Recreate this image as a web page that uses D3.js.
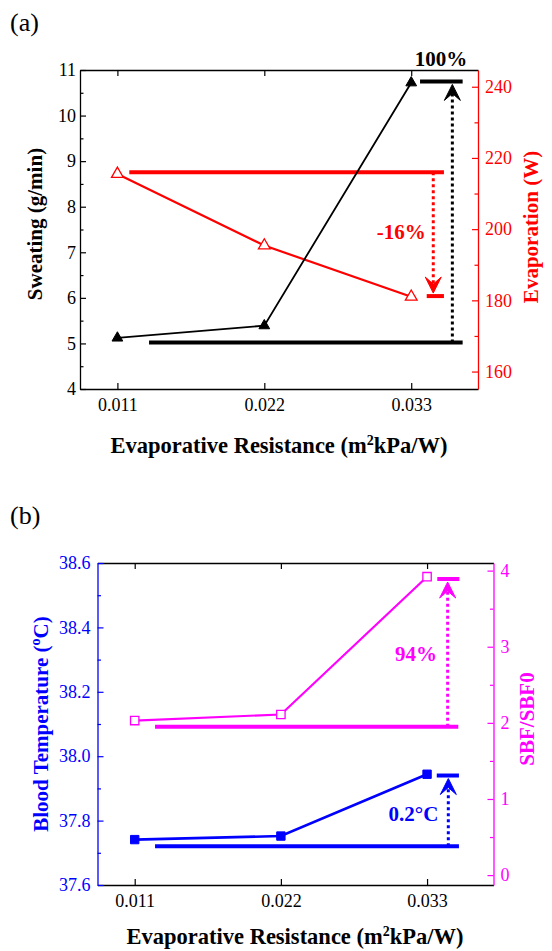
<!DOCTYPE html>
<html><head><meta charset="utf-8">
<script src="https://cdn.jsdelivr.net/npm/d3@7"></script>
<style>
html,body{margin:0;padding:0;background:#fff;}
svg{display:block;}
svg text{font-family:'Liberation Serif','DejaVu Serif',serif !important;}
</style></head>
<body>
<svg id="chart" width="552" height="951"></svg>
<script>
// ---------------- DATA ----------------
const resistance = [0.011, 0.022, 0.033];
const xTickLabels = ["0.011", "0.022", "0.033"];
const sweating = [5.12, 5.39, 10.72];          // g/min (left axis, a)
const evaporation = [215.5, 195.4, 181.0];     // W (right axis, a)
const bloodTemp = [37.741, 37.752, 37.944];    // °C (left axis, b)
const sbfRatio = [2.03, 2.11, 3.92];           // SBF/SBF0 (right axis, b)
const sweatTicks = [4, 5, 6, 7, 8, 9, 10, 11];
const evapTicks = [160, 180, 200, 220, 240];
const bloodTicks = [37.6, 37.8, 38.0, 38.2, 38.4, 38.6];
const sbfTicks = [0, 1, 2, 3, 4];
// annotation reference levels
const sweatRef = {base: 5.02, top: 10.75, label: "100%"};
const evapRef = {top: 216.0, bottom: 181.2, label: "-16%"};
const bloodRef = {base: 37.72, top: 37.94, label: "0.2°C"};
const sbfRef = {base: 1.95, top: 3.89, label: "94%"};

const svg = d3.select("#chart");
const FONT = "'Liberation Serif','DejaVu Serif',serif";

function panel(cfg) {
  const g = svg.append("g");
  const x = d3.scaleLinear().domain([0.0082, 0.0380]).range([cfg.left, cfg.right]);
  const yL = d3.scaleLinear().domain(cfg.leftDomain).range([cfg.bottom, cfg.top]);
  const yR = d3.scaleLinear().domain(cfg.rightDomain).range([cfg.bottom, cfg.top]);

  function styleAxis(sel, color, fs) {
    sel.attr("font-family", FONT);
    sel.selectAll("path.domain").attr("stroke", color).attr("stroke-width", 1.3);
    sel.selectAll(".tick line").attr("stroke", color).attr("stroke-width", 1.2);
    sel.selectAll(".tick text").attr("fill", color).style("font-family", FONT).style("font-size", fs + "px");
  }
  function minor(sel, axis, color) {
    sel.call(axis);
    sel.select("path.domain").remove();
    sel.selectAll(".tick line").attr("stroke", color).attr("stroke-width", 1.2);
  }

  const bx = g.append("g").attr("transform", `translate(0,${cfg.bottom})`)
    .call(d3.axisBottom(x).tickValues(resistance).tickFormat((d, i) => xTickLabels[i]).tickSize(-6).tickPadding(9).tickSizeOuter(0));
  styleAxis(bx, "#000", 18);
  const tx = g.append("g").attr("transform", `translate(0,${cfg.top})`)
    .call(d3.axisTop(x).tickValues(resistance).tickFormat("").tickSize(-6).tickSizeOuter(0));
  styleAxis(tx, "#000", 18);
  const la = g.append("g").attr("transform", `translate(${cfg.left},0)`)
    .call(d3.axisLeft(yL).tickValues(cfg.leftTicks).tickFormat(cfg.leftFmt).tickSize(-6).tickPadding(cfg.leftPad).tickSizeOuter(0));
  styleAxis(la, cfg.leftColor, 18);
  minor(g.append("g").attr("transform", `translate(${cfg.left},0)`),
    d3.axisLeft(yL).tickValues(cfg.leftMinor).tickFormat("").tickSize(-3.5).tickSizeOuter(0), cfg.leftColor);
  const ra = g.append("g").attr("transform", `translate(${cfg.right},0)`)
    .call(d3.axisRight(yR).tickValues(cfg.rightTicks).tickFormat(cfg.rightFmt).tickSize(-6).tickPadding(7).tickSizeOuter(0));
  styleAxis(ra, cfg.rightColor, 18);
  minor(g.append("g").attr("transform", `translate(${cfg.right},0)`),
    d3.axisRight(yR).tickValues(cfg.rightMinor).tickFormat("").tickSize(-3.5).tickSizeOuter(0), cfg.rightColor);

  g.append("text").attr("x", 10).attr("y", cfg.letterY).text(cfg.letter)
    .style("font-family", FONT).style("font-size", "26px").attr("fill", "#000");

  const xt = g.append("text").attr("x", cfg.xTitleX).attr("y", cfg.xTitleY).attr("text-anchor", "middle")
    .style("font-family", FONT).style("font-size", "22.5px").style("font-weight", "bold").attr("fill", "#000");
  xt.append("tspan").text("Evaporative Resistance (m");
  xt.append("tspan").text("2").attr("dy", -8).style("font-size", "14px");
  xt.append("tspan").text("kPa/W)").attr("dy", 8);

  const lt = g.append("text").attr("transform", `translate(${cfg.leftTitleX},${cfg.leftTitleY}) rotate(-90)`)
    .attr("text-anchor", "middle").style("font-family", FONT).style("font-size", "21px").style("font-weight", "bold")
    .attr("fill", cfg.leftColor);
  cfg.leftTitle(lt);
  g.append("text").attr("transform", `translate(${cfg.rightTitleX},${cfg.rightTitleY}) rotate(-90)`)
    .attr("text-anchor", "middle").style("font-family", FONT).style("font-size", "21px").style("font-weight", "bold")
    .attr("fill", cfg.rightColor).text(cfg.rightTitle);

  return {g, x, yL, yR};
}

function series(p, y, vals, color, width, marker, filled, size) {
  const line = d3.line().x((d, i) => p.x(resistance[i])).y(d => y(d));
  p.g.append("path").datum(vals).attr("d", line).attr("fill", "none")
    .attr("stroke", color).attr("stroke-width", width);
  const sym = d3.symbol().type(marker).size(size);
  p.g.selectAll(null).data(vals).enter().append("path")
    .attr("d", sym)
    .attr("transform", (d, i) => `translate(${p.x(resistance[i])},${y(d)})`)
    .attr("fill", filled ? color : "#fff").attr("stroke", color).attr("stroke-width", filled ? 1 : 1.3);
}

function hbar(p, y, v, x0, x1, color) {
  p.g.append("line").attr("x1", p.x(x0)).attr("x2", p.x(x1)).attr("y1", y(v)).attr("y2", y(v))
    .attr("stroke", color).attr("stroke-width", 4);
}
function arrow(p, y, xv, from, to, color) {
  const X = p.x(xv), y0 = y(from), yt = y(to);
  const dir = yt < y0 ? 1 : -1;
  const tip = yt + dir * 3;
  p.g.append("line").attr("x1", X).attr("x2", X).attr("y1", y0).attr("y2", tip + dir * 8)
    .attr("stroke", color).attr("stroke-width", 3).attr("stroke-dasharray", "3,3");
  p.g.append("path").attr("d",
    `M${X},${tip} L${X - 8},${tip + dir * 16} L${X},${tip + dir * 9} L${X + 8},${tip + dir * 16} Z`)
    .attr("fill", color).attr("stroke", color).attr("stroke-width", 1);
}
function label(p, xv, yPix, txt, color) {
  p.g.append("text").attr("x", p.x(xv)).attr("y", yPix).attr("text-anchor", "middle").text(txt)
    .style("font-family", FONT).style("font-size", "21px").style("font-weight", "bold").attr("fill", color);
}

// ---------------- PANEL (a) ----------------
const pa = panel({
  left: 80, right: 478, top: 70, bottom: 389,
  leftDomain: [4, 11], rightDomain: [155.1, 244.7],
  leftTicks: sweatTicks, leftMinor: d3.range(4.5, 11, 1), leftFmt: d3.format("d"), leftPad: 4,
  rightTicks: evapTicks, rightMinor: [170, 190, 210, 230], rightFmt: d3.format("d"),
  leftColor: "#000", rightColor: "#ff0000",
  letter: "(a)", letterY: 31,
  xTitleX: 279, xTitleY: 453,
  leftTitleX: 42, leftTitleY: 224, leftTitle: t => t.text("Sweating (g/min)"),
  rightTitleX: 538, rightTitleY: 227, rightTitle: "Evaporation (W)"
});
hbar(pa, pa.yL, sweatRef.base, 0.01337, 0.03685, "#000");
hbar(pa, pa.yL, sweatRef.top, 0.03366, 0.03685, "#000");
arrow(pa, pa.yL, 0.03608, sweatRef.base, sweatRef.top, "#000");
hbar(pa, pa.yR, evapRef.top, 0.01189, 0.03545, "#ff0000");
hbar(pa, pa.yR, evapRef.bottom, 0.03416, 0.03545, "#ff0000");
arrow(pa, pa.yR, 0.03465, evapRef.top, evapRef.bottom, "#ff0000");
series(pa, pa.yR, evaporation, "#ff0000", 2.2, d3.symbolTriangle, false, 60);
series(pa, pa.yL, sweating, "#000", 1.8, d3.symbolTriangle, true, 50);
pa.g.append("text").attr("x", pa.x(0.03523)).attr("y", 66).attr("text-anchor", "middle").text(sweatRef.label)
  .style("font-family", FONT).style("font-size", "21px").style("font-weight", "bold").attr("fill", "#000");
label(pa, 0.03225, 239, evapRef.label, "#ff0000");

// ---------------- PANEL (b) ----------------
const pb = panel({
  left: 97.5, right: 493.5, top: 563, bottom: 885,
  leftDomain: [37.6, 38.6], rightDomain: [-0.13, 4.1],
  leftTicks: bloodTicks, leftMinor: [37.7, 37.9, 38.1, 38.3, 38.5], leftFmt: d3.format(".1f"), leftPad: 7,
  rightTicks: sbfTicks, rightMinor: [0.5, 1.5, 2.5, 3.5], rightFmt: d3.format("d"),
  leftColor: "#0000ff", rightColor: "#ff00ff",
  letter: "(b)", letterY: 524,
  xTitleX: 295, xTitleY: 944,
  leftTitleX: 48, leftTitleY: 724,
  leftTitle: t => { t.append("tspan").text("Blood Temperature ("); t.append("tspan").text("o").attr("dy", -8).style("font-size", "14px"); t.append("tspan").text("C)").attr("dy", 8); },
  rightTitleX: 534, rightTitleY: 719, rightTitle: "SBF/SBF0"
});
hbar(pb, pb.yL, bloodRef.base, 0.01253, 0.0354, "#0000ff");
hbar(pb, pb.yL, bloodRef.top, 0.03373, 0.0354, "#0000ff");
arrow(pb, pb.yL, 0.0346, bloodRef.base, bloodRef.top, "#0000ff");
hbar(pb, pb.yR, sbfRef.base, 0.01253, 0.03535, "#ff00ff");
hbar(pb, pb.yR, sbfRef.top, 0.03377, 0.03543, "#ff00ff");
arrow(pb, pb.yR, 0.03455, sbfRef.base, sbfRef.top, "#ff00ff");
series(pb, pb.yR, sbfRatio, "#ff00ff", 2.2, d3.symbolSquare, false, 70);
series(pb, pb.yL, bloodTemp, "#0000ff", 2.6, d3.symbolSquare, true, 70);
label(pb, 0.03217, 661, sbfRef.label, "#ff00ff");
label(pb, 0.03198, 821, bloodRef.label, "#0000ff");
</script>
</body></html>
